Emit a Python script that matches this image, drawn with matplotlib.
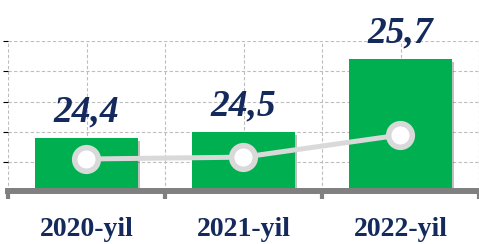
import matplotlib.pyplot as plt
import matplotlib.patheffects as pe
import numpy as np

years = ["2020-yil", "2021-yil", "2022-yil"]
values = [24.4, 24.5, 25.7]

BAR_GREEN = "#00b050"
NAVY = "#142a5c"
LIGHT = "#d9d9d9"

fig = plt.figure(figsize=(4.79, 2.44), dpi=100)
ax = fig.add_axes([8 / 479, 53 / 244, 1 - 8 / 479, 150 / 244])

x = np.arange(len(years))
base = 23.52

bars = ax.bar(x, np.array(values) - base, bottom=base, width=0.65,
              color=BAR_GREEN, zorder=3)
for b in bars:
    b.set_path_effects([pe.SimplePatchShadow(offset=(2, -2), shadow_rgbFace="#000000", alpha=0.25),
                        pe.Normal()])

# value labels above bars
for xi, v in zip(x, values):
    ax.annotate(f"{v:.1f}".replace(".", ","), (xi, v), xytext=(0, 12),
                textcoords="offset points", ha="center", va="baseline",
                fontsize=27, fontweight="bold", fontstyle="italic",
                family="Liberation Serif", color=NAVY, clip_on=False, zorder=5)

ax.set_xlim(-0.5, 2.48)
ax.set_ylim(base, 26.005)

# grid
ax.set_yticks([24, 24.5, 25, 25.5, 26])
ax.set_xticks([-0.5, 0.5, 1.5, 2.5])
ax.set_xticks(x, minor=True)
ax.set_xticklabels(years, minor=True)
ax.set_xticklabels([])
ax.grid(True, which="both", color="#bdbdbd", linestyle=(0, (3, 2)), linewidth=0.8, zorder=0)
ax.set_axisbelow(True)

ax.tick_params(axis="y", left=False, labelleft=False)
ax.tick_params(axis="x", which="major", direction="out", length=6, width=3, color="#808080")
ax.tick_params(axis="x", which="minor", length=0, pad=19)
for lbl in ax.get_xticklabels(minor=True):
    lbl.set_fontfamily("Liberation Serif")
    lbl.set_fontweight("bold")
    lbl.set_fontsize(20)
    lbl.set_color(NAVY)

for side in ["top", "right", "left"]:
    ax.spines[side].set_visible(False)
ax.spines["bottom"].set_color("#808080")
ax.spines["bottom"].set_linewidth(4.3)
ax.spines["bottom"].set_zorder(4)

# line on secondary scale
ax2 = ax.twinx()
ax2.set_ylim(22.67, 30.78)
ax2.plot(x, values, color=LIGHT, linewidth=3.6, marker="o", markersize=17,
         markerfacecolor="white", markeredgecolor=LIGHT, markeredgewidth=4, zorder=5)
ax2.axis("off")

fig.savefig("out.png", dpi=100)
